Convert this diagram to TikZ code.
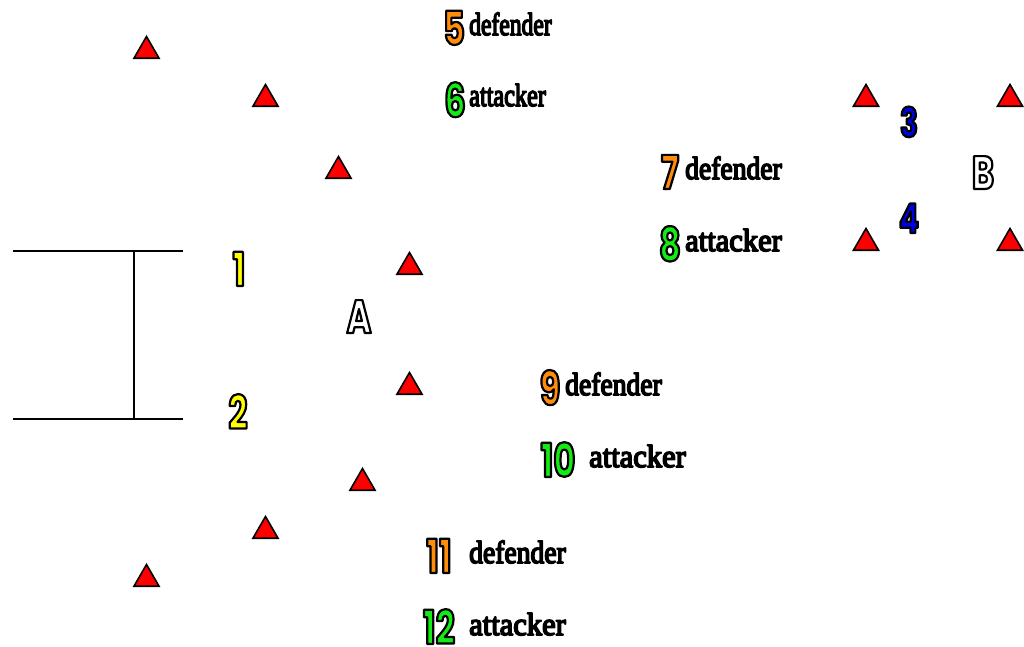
\documentclass[tikz,border=0pt]{standalone}
\usepackage{fontspec}
\newfontfamily\numfont[FakeStretch=0.72]{Poppins}
\newfontfamily\wordfont{Liberation Serif}
\definecolor{numorange}{RGB}{255,140,10}
\definecolor{numgreen}{RGB}{20,235,20}
\definecolor{numblue}{RGB}{0,0,230}
\definecolor{numyellow}{RGB}{255,255,0}
\definecolor{trired}{RGB}{255,0,0}
\newcommand{\outlined}[3]{{\color{#1}\special{pdf:code 2 Tr #2 w 0 0 0 RG 1 j}#3\special{pdf:code 0 Tr 0 j}}}
\newcommand{\numtext}[2]{{\numfont\bfseries\fontsize{47}{47}\selectfont\outlined{#1}{2.2}{#2}}}
\newcommand{\smalltext}[2]{{\numfont\bfseries\fontsize{41}{41}\selectfont\outlined{#1}{2.2}{#2}}}
\newcommand{\wordtext}[2]{\scalebox{#1}[1]{\wordfont\fontsize{32}{32}\selectfont\outlined{black}{1.7}{#2}}}
\usetikzlibrary{shapes.geometric}
\tikzset{
  x=1bp,y=-1bp,
  tri/.style={regular polygon,regular polygon sides=3,draw=black,fill=trired,line width=1.6bp,inner sep=0pt,minimum size=29bp},
  numlabel/.style={inner sep=0pt,anchor=base},
  wordlabel/.style={inner sep=0pt,anchor=base west},
  goal/.style={line width=1.2bp,black}
}
\begin{document}
\begin{tikzpicture}
\useasboundingbox (0,0) rectangle (1024,647);
% goal
\coordinate (g1) at (13,251);\coordinate (g2) at (183,251);
\coordinate (g3) at (13,419);\coordinate (g4) at (183,419);
\coordinate (g5) at (134,251);\coordinate (g6) at (134,419);
\draw[goal] (g1) -- (g2);
\draw[goal] (g3) -- (g4);
\draw[goal] (g5) -- (g6);
% triangles
\node[tri] (t1) at (146.5,51) {};
\node[tri] (t2) at (265.5,99) {};
\node[tri] (t3) at (338.5,171) {};
\node[tri] (t4) at (409.5,267) {};
\node[tri] (t5) at (409.5,387) {};
\node[tri] (t6) at (362.5,483) {};
\node[tri] (t7) at (265.5,531) {};
\node[tri] (t8) at (146.5,579) {};
\node[tri] (t9) at (866,99) {};
\node[tri] (t10) at (1010,99) {};
\node[tri] (t11) at (866,243) {};
\node[tri] (t12) at (1010,243) {};
% numbers
\node[numlabel] (n1) at (239,286) {\numtext{numyellow}{1}};
\node[numlabel] (n2) at (238,429) {\numtext{numyellow}{2}};
\node[numlabel] (n3) at (909,137) {\smalltext{numblue}{3}};
\node[numlabel] (n4) at (909,233) {\smalltext{numblue}{4}};
\node[numlabel] (n5) at (454,45) {\numtext{numorange}{5}};
\node[numlabel] (n6) at (455,117) {\numtext{numgreen}{6}};
\node[numlabel] (n7) at (670,189) {\numtext{numorange}{7}};
\node[numlabel] (n8) at (670,261) {\numtext{numgreen}{8}};
\node[numlabel] (n9) at (550,405) {\numtext{numorange}{9}};
\node[numlabel] (n10) at (558,477) {\numtext{numgreen}{10}};
\node[numlabel] (n11) at (439,573) {\numtext{numorange}{11}};
\node[numlabel] (n12) at (439,644) {\numtext{numgreen}{12}};
\node[numlabel] (a) at (359,333) {\numtext{white}{A}};
\node[numlabel] (b) at (983,189) {\numtext{white}{B}};
% words
\node[wordlabel] (w5) at (469,35) {\wordtext{0.74}{defender}};
\node[wordlabel] (w6) at (469,106) {\wordtext{0.76}{attacker}};
\node[wordlabel] (w7) at (685,179) {\wordtext{0.866}{defender}};
\node[wordlabel] (w8) at (685,251) {\wordtext{0.958}{attacker}};
\node[wordlabel] (w9) at (565,395) {\wordtext{0.866}{defender}};
\node[wordlabel] (w10) at (589,467) {\wordtext{0.958}{attacker}};
\node[wordlabel] (w11) at (469,563) {\wordtext{0.866}{defender}};
\node[wordlabel] (w12) at (469,635) {\wordtext{0.958}{attacker}};
\end{tikzpicture}
\end{document}
